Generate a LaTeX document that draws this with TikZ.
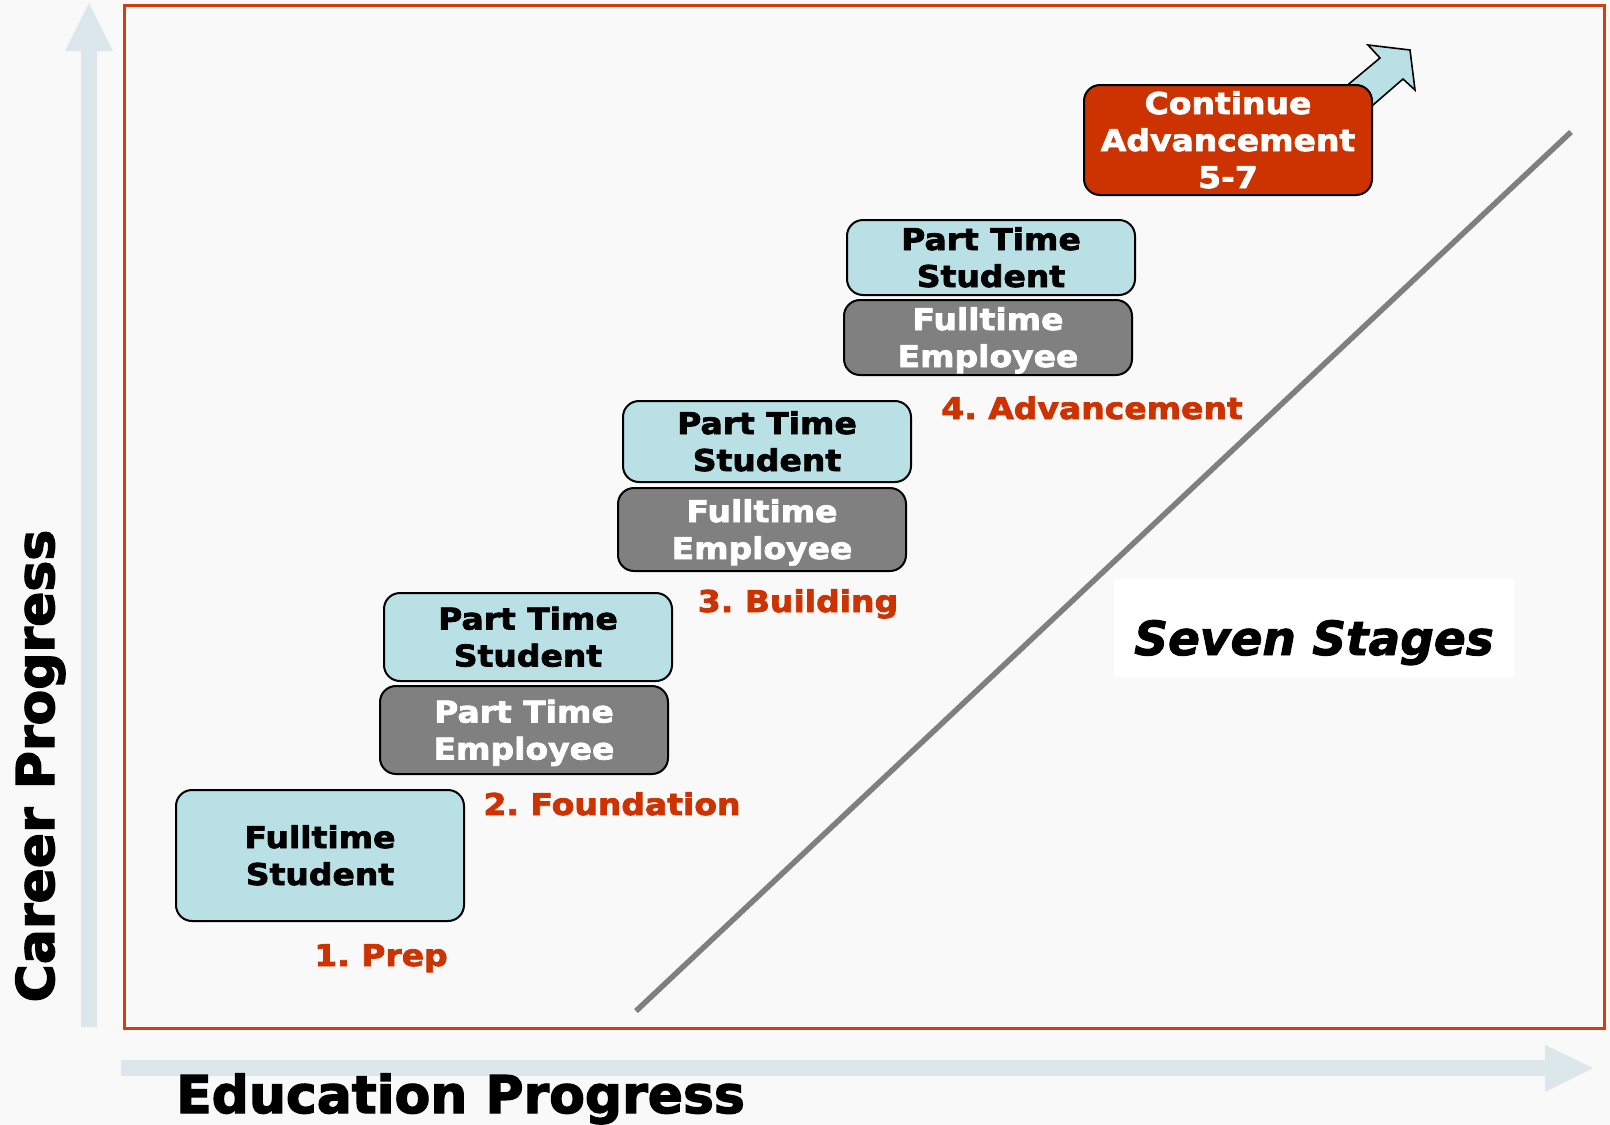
\documentclass[tikz,border=0pt]{standalone}
\usepackage{fontspec}
\setmainfont{DejaVu Sans}
\newfontfamily\stretchfont{DejaVu Sans}[FakeStretch=1.1, BoldFeatures={FakeBold=2.5}]
\newfontfamily\heavyfont{DejaVu Sans}[BoldFeatures={FakeBold=2.5}, BoldItalicFeatures={FakeBold=2}]
\frenchspacing
\definecolor{bgcol}{HTML}{F9F9F9}
\definecolor{boxblue}{HTML}{B9E0E4}
\definecolor{boxgray}{HTML}{808080}
\definecolor{boxred}{HTML}{CC3300}
\definecolor{labelred}{HTML}{CC3300}
\definecolor{framered}{HTML}{D63C14}
\definecolor{axiscol}{HTML}{DCE7EB}
\definecolor{linegray}{HTML}{7F7F7F}
\tikzset{
  stagebox/.style={draw=black, line width=2pt, rounded corners=16pt, inner sep=0pt,
    align=center, font=\stretchfont\bfseries\frenchspacing\fontsize{30}{37}\selectfont,
    text height=59pt, text depth=0pt, minimum width=288pt},
  studentbox/.style={stagebox, fill=boxblue, text=black},
  employeebox/.style={stagebox, fill=boxgray, text=white},
  contbox/.style={stagebox, fill=boxred, text=white, text height=96pt},
  stagelabel/.style={font=\stretchfont\bfseries\frenchspacing\fontsize{30}{36}\selectfont,
    text=labelred, anchor=base, inner sep=0pt},
  axislabel/.style={font=\heavyfont\bfseries\fontsize{52}{60}\selectfont, text=black, inner sep=0pt},
}
\begin{document}
\begin{tikzpicture}[x=1pt,y=-1pt]
\useasboundingbox (0,0) rectangle (1610,1125);
\fill[bgcol] (0,0) rectangle (1610,1125);
% frame
\draw[framered, line width=3pt] (124.5,5) rectangle (1604,1028);
% axis arrows
\fill[axiscol] (81,1027) -- (81,51) -- (65,51) -- (89,3) -- (113,51) -- (97,51) -- (97,1027) -- cycle;
\fill[axiscol] (121,1060) -- (1545,1060) -- (1545,1045) -- (1593,1068) -- (1545,1092) -- (1545,1076) -- (121,1076) -- cycle;
% axis labels
\node[axislabel, anchor=base west] (edu) at (176,1113) {Education Progress};
\node[axislabel, anchor=base, rotate=90] (career) at (54,766) {Career Progress};
% diagonal line
\coordinate (lineA) at (636,1011);
\coordinate (lineB) at (1571,132);
\draw[linegray, line width=5.5pt] (lineA) -- (lineB);
% seven stages
\node[fill=white, minimum width=400pt, minimum height=98pt, inner sep=0pt,
  font=\heavyfont\bfseries\itshape\fontsize{47}{52}\selectfont, text height=54pt, text depth=0pt]
  (seven) at (1314,628) {Seven Stages};
% continue arrow
\draw[black, line width=1.6pt, fill=boxblue, line join=miter]
  (1320,108) -- (1380,58) -- (1368,45) -- (1410,50) -- (1415,90) -- (1403,79) -- (1343,131) -- cycle;
% boxes
\node[studentbox, minimum height=131pt] (fs) at (320,855.5) {Fulltime\\Student};
\node[employeebox, minimum height=88pt] (pte) at (524,730) {Part Time\\Employee};
\node[studentbox, minimum height=88pt] (pts2) at (528,637) {Part Time\\Student};
\node[employeebox, minimum height=83pt] (fte3) at (762,529.5) {Fulltime\\Employee};
\node[studentbox, minimum height=81pt] (pts3) at (767,441.5) {Part Time\\Student};
\node[employeebox, minimum height=75pt] (fte4) at (988,337.5) {Fulltime\\Employee};
\node[studentbox, minimum height=75pt] (pts4) at (991,257.5) {Part Time\\Student};
\node[contbox, minimum height=110pt] (cont) at (1228,140) {Continue\\Advancement\\5-7};
% stage labels
\node[stagelabel] (l1) at (381,966) {1. Prep};
\node[stagelabel] (l2) at (612,815) {2. Foundation};
\node[stagelabel] (l3) at (798,612) {3. Building};
\node[stagelabel] (l4) at (1092,419) {4. Advancement};
\end{tikzpicture}
\end{document}
